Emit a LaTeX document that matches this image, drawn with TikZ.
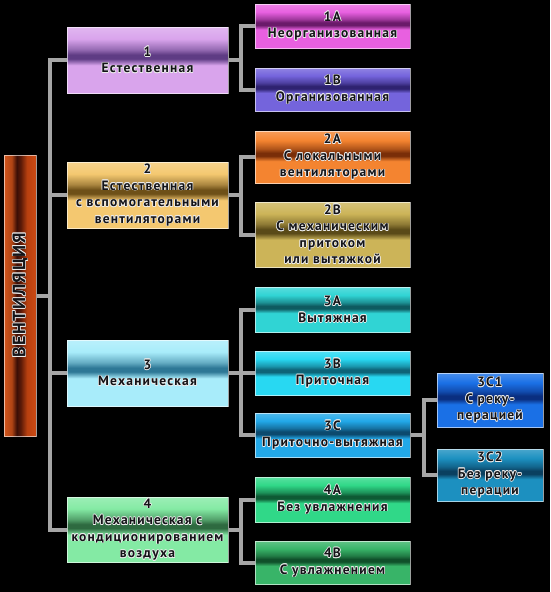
\documentclass[tikz,border=0pt]{standalone}
\usepackage{fontspec}
\setmainfont{PT Sans}
\newfontfamily\lblfont[LetterSpace=9]{PT Sans}
\usetikzlibrary{calc}
\definecolor{lineg}{HTML}{A6A6A6}
\definecolor{txt}{HTML}{141418}
\definecolor{rb1}{HTML}{D2561C}
\definecolor{rb2}{HTML}{B04414}
\definecolor{rb3}{HTML}{3A0E06}
\definecolor{rb4}{HTML}{5A1A08}
\definecolor{rb5}{HTML}{B8400F}
\definecolor{rb6}{HTML}{CC4A14}
\colorlet{cL}{white}\colorlet{cD}{black}\colorlet{cM}{gray}\colorlet{cT}{white}
\pgfdeclareverticalshading[cL,cD,cM,cT]{band}{100bp}{color(0bp)=(cL); color(25bp)=(cL); color(46bp)=(cL); color(51bp)=(cD); color(54bp)=(cD); color(58bp)=(cM); color(66bp)=(cL); color(75bp)=(cT); color(100bp)=(cT)}
\pgfdeclarehorizontalshading{redbar}{100bp}{color(0bp)=(rb1); color(25bp)=(rb1); color(37bp)=(rb2); color(45bp)=(rb3); color(51bp)=(rb4); color(61bp)=(rb5); color(75bp)=(rb6); color(100bp)=(rb6)}
\tikzset{
  conn/.style={draw=lineg, line width=4pt, line join=miter},
  boxnode/.style={draw=white, draw opacity=0.6, line width=1pt, shading=band, inner sep=0pt},
  lbl/.style={font=\lblfont\bfseries\fontsize{13.5}{16.5}\selectfont, align=center, inner sep=0pt, text=txt},
}
\newcommand\halotext[3]{%
  \foreach \a in {0,45,...,315}{\node[lbl,text=white!85!gray,#3] (#1-h\a) at ($(#1.center)+(\a:0.7pt)$) {#2};}
  \node[lbl,#3] (#1-t) at (#1.center) {#2};}
\newcommand\bx[8]{%
  \definecolor{cL}{HTML}{#6}\definecolor{cD}{HTML}{#7}\colorlet{cM}{cL!45!cD}\colorlet{cT}{cL!80!white}%
  \node[boxnode, minimum width={#4-#2}, minimum height={#5-#3}] (#1) at ({(#2+#4)/2},{(#3+#5)/2}) {};
  \halotext{#1}{#8}{}}
\begin{document}
\begin{tikzpicture}[x=1pt,y=-1pt]
\useasboundingbox (0,0) rectangle (550,592);
\fill[black] (0,0) rectangle (550,592);
% boxes
\bx{b1}{67}{27}{228}{93}{D9A4EC}{5E3C84}{1\\Естественная}
\bx{b2}{67}{162}{228}{228}{F4C870}{6E5018}{2\\Естественная\\с вспомогательными\\вентиляторами}
\bx{b3}{67}{340}{228}{406}{A8ECFA}{2E7896}{3\\Механическая}
\bx{b4}{67}{497}{228}{562}{84EAA4}{2E6A40}{4\\Механическая с\\кондиционированием\\воздуха}
\bx{a1}{255}{4}{410}{48}{E860E0}{6A1A6A}{1A\\Неорганизованная}
\bx{a1b}{255}{68}{410}{111}{7464DC}{2E2270}{1B\\Организованная}
\bx{a2}{255}{131}{410}{183}{F48430}{7A2E08}{2A\\С локальными\\вентиляторами}
\bx{a2b}{255}{202}{410}{267}{CCB458}{5A4A18}{2B\\С механическим\\притоком\\или вытяжкой}
\bx{a3}{255}{287}{410}{332}{30D4D4}{0E5A60}{3A\\Вытяжная}
\bx{a3b}{255}{351}{410}{395}{28D8F2}{0E6478}{3B\\Приточная}
\bx{a3c}{255}{413}{410}{457}{22A8E8}{0C4A6E}{3C\\Приточно-вытяжная}
\bx{c31}{437}{373}{543}{427}{1A70E6}{0A2E80}{3C1\\С реку-\\перацией}
\bx{c32}{437}{449}{543}{501}{1C90C0}{0A4060}{3C2\\Без реку-\\перации}
\bx{a4}{255}{477}{410}{522}{30D888}{0E5A34}{4A\\Без увлажнения}
\bx{a4b}{255}{541}{410}{584}{38B468}{10502A}{4B\\С увлажнением}
% left bar
\node[draw=white, draw opacity=0.6, line width=1pt, shading=redbar, inner sep=0pt, minimum width=32, minimum height=281] (V) at (20,295.5) {};
\halotext{V}{ВЕНТИЛЯЦИЯ}{rotate=90, font=\lblfont\bfseries\fontsize{18}{20}\selectfont}
% connectors
\coordinate (trunk) at (50,0);
\coordinate (br) at (241,0);
\coordinate (br2) at (424,0);
\draw[conn] (b1.west) -- (b1.west -| trunk) -- (b4.west -| trunk) -- (b4.west);
\draw[conn] (b2.west) -- (b2.west -| trunk);
\draw[conn] (b3.west) -- (b3.west -| trunk);
\draw[conn] (V.east) -- (V.east -| trunk);
\draw[conn] (b1.east) -- (b1.east -| br);
\draw[conn] (a1.west) -- (a1.west -| br) -- (a1b.west -| br) -- (a1b.west);
\draw[conn] (b2.east) -- (b2.east -| br);
\draw[conn] (a2.west) -- (a2.west -| br) -- (a2b.west -| br) -- (a2b.west);
\draw[conn] (b3.east) -- (a3b.west);
\draw[conn] (a3.west) -- (a3.west -| br) -- (a3c.west -| br) -- (a3c.west);
\draw[conn] (b4.east) -- (b4.east -| br);
\draw[conn] (a4.west) -- (a4.west -| br) -- (a4b.west -| br) -- (a4b.west);
\draw[conn] (a3c.east) -- (a3c.east -| br2);
\draw[conn] (c31.west) -- (c31.west -| br2) -- (c32.west -| br2) -- (c32.west);
\end{tikzpicture}
\end{document}
